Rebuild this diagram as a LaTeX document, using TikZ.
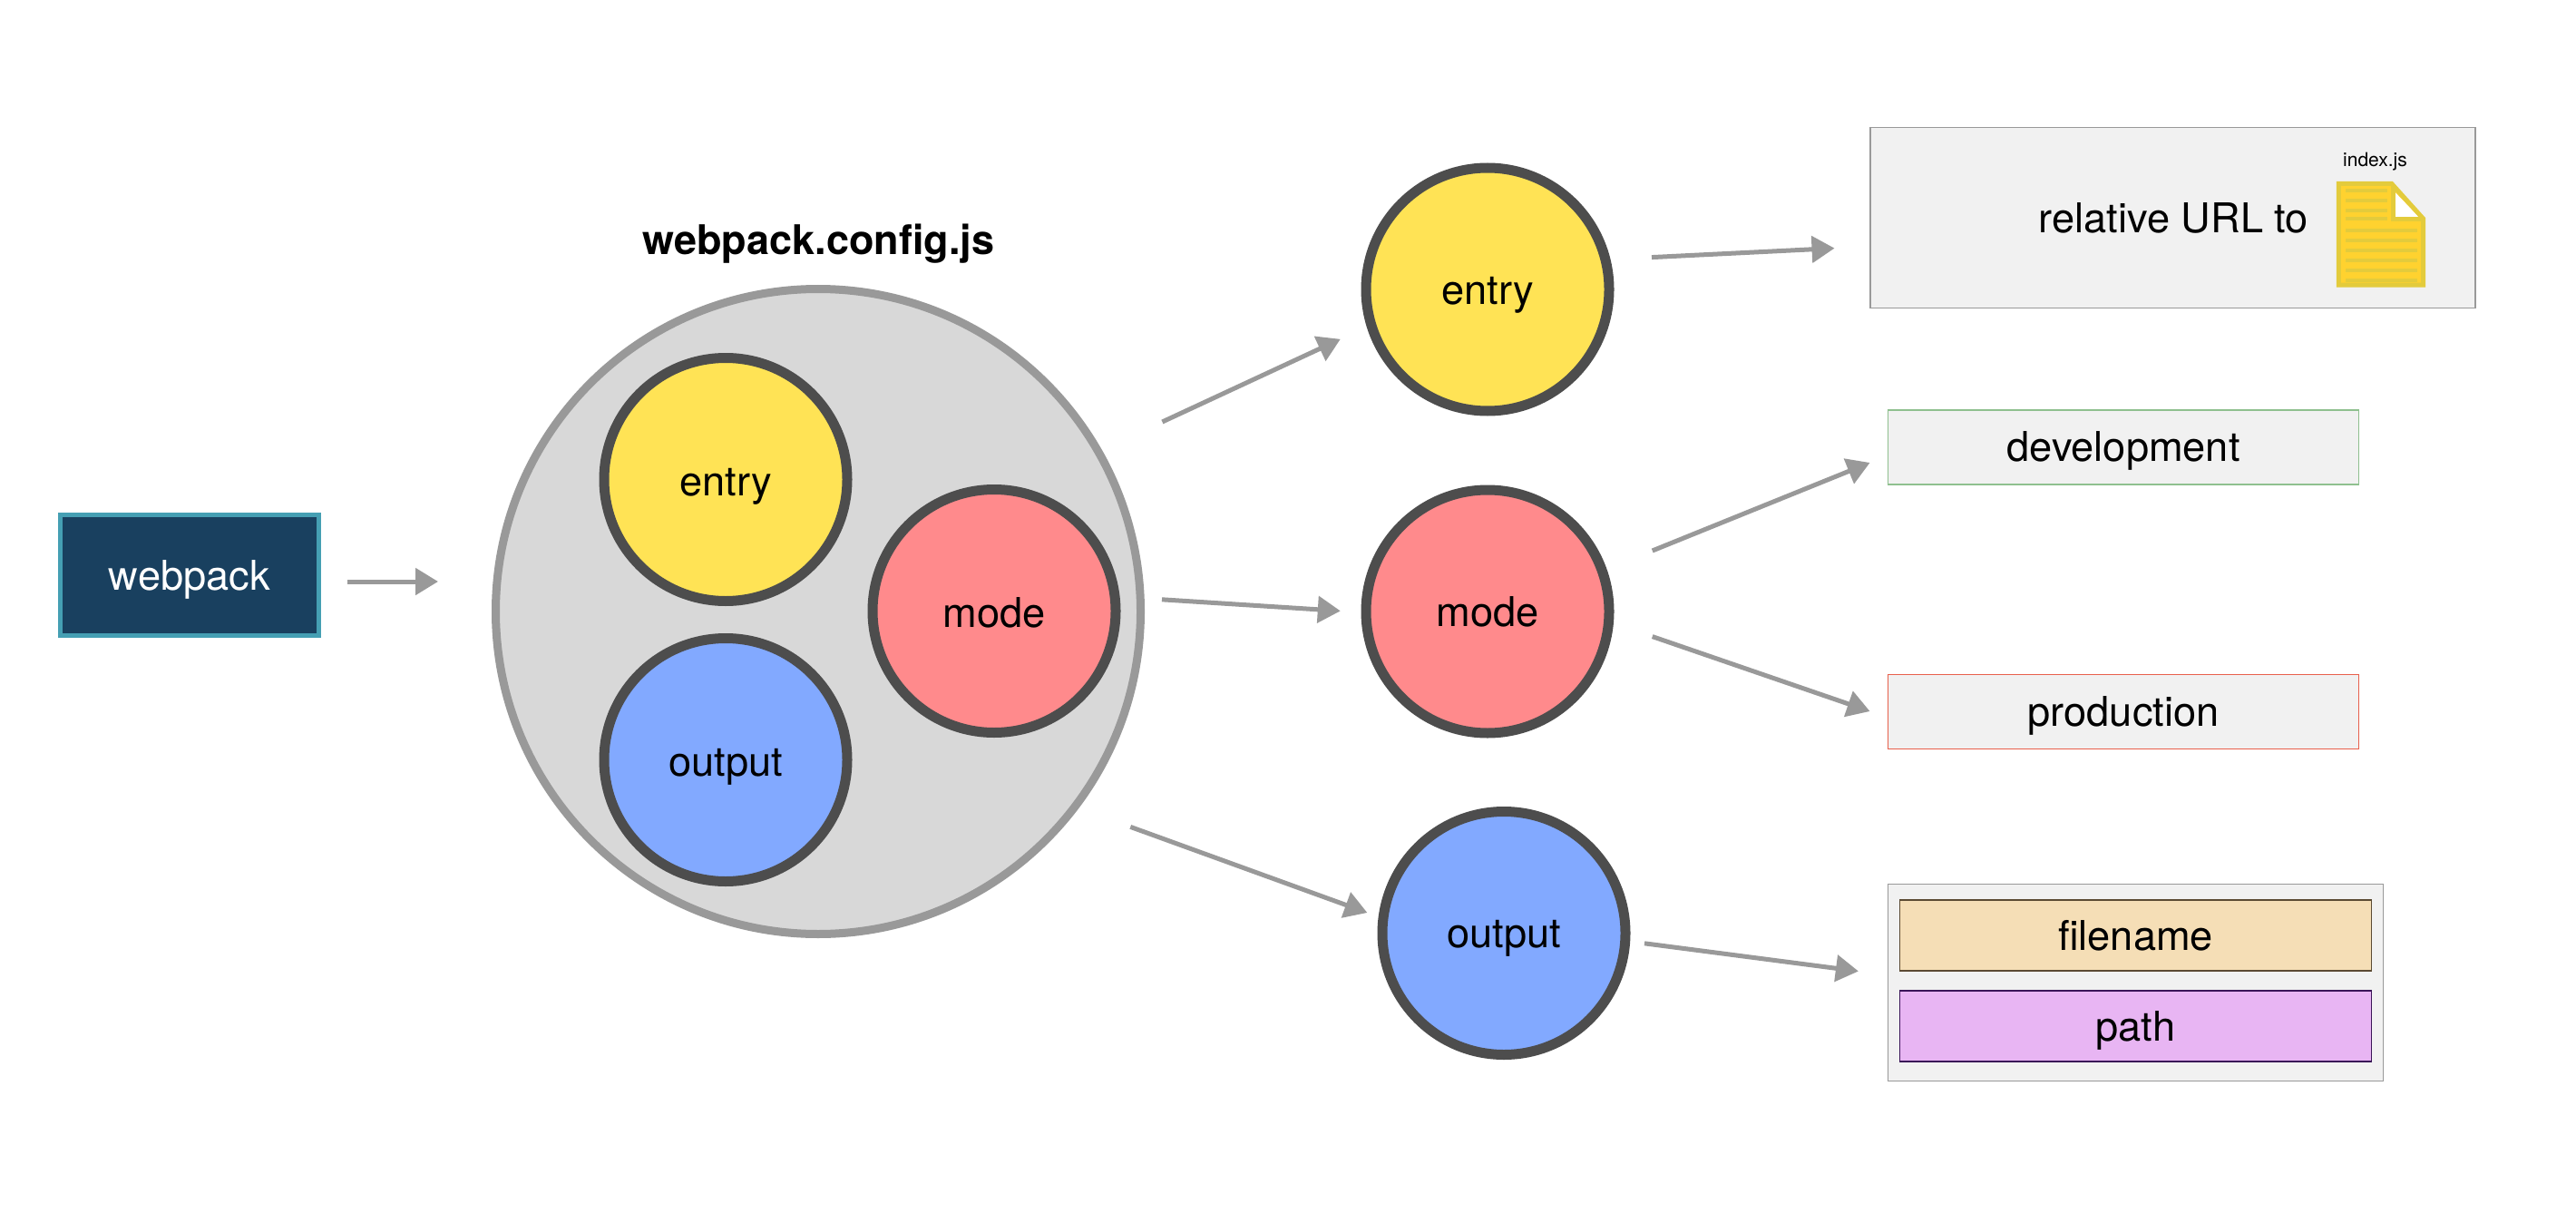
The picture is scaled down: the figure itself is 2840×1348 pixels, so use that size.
\documentclass[tikz,border=0pt]{standalone}
\usepackage{fontspec}
\setmainfont{TeX Gyre Heros}
\usetikzlibrary{arrows.meta}
\definecolor{grayline}{HTML}{999999}
\definecolor{ringdark}{HTML}{4D4D4D}
\definecolor{bigfill}{HTML}{D8D8D8}
\definecolor{yellowfill}{HTML}{FFE355}
\definecolor{pinkfill}{HTML}{FF8A8C}
\definecolor{bluefill}{HTML}{82A9FF}
\definecolor{navyfill}{HTML}{19405F}
\definecolor{tealline}{HTML}{459FB3}
\definecolor{panelfill}{HTML}{F1F1F1}
\definecolor{devline}{HTML}{8FC08F}
\definecolor{prodline}{HTML}{E8604C}
\definecolor{tanfill}{HTML}{F5DEB6}
\definecolor{tanline}{HTML}{5B4A33}
\definecolor{lilacfill}{HTML}{E8B5F3}
\definecolor{lilacline}{HTML}{3A1458}
\definecolor{docfill}{HTML}{FFD22F}
\definecolor{docline}{HTML}{E3CB3C}
\tikzset{
  x=1pt,y=-1pt,
  every node/.style={inner sep=0pt,outer sep=0pt,font=\fontsize{45.2}{54}\selectfont},
  labelled/.style={align=center,text height=34pt,text depth=2pt},
  ball/.style={labelled,circle,draw=ringdark,line width=11pt,minimum size=268pt},
  innerball/.style={ball,text height=37pt},
  panel/.style={labelled,rectangle,draw=#1,fill=panelfill,line width=1.7pt},
  slot/.style={labelled,rectangle,line width=1.7pt,minimum width=520pt,minimum height=78pt},
  flow/.style={draw=grayline,line width=5pt,-{Triangle[length=25pt,width=29pt]}},
}
\begin{document}
\begin{tikzpicture}
\useasboundingbox (0,0) rectangle (2840,1348);
\fill[white] (0,0) rectangle (2840,1348);

% webpack
\node[labelled,rectangle,draw=tealline,fill=navyfill,line width=5pt,text=white,minimum width=285pt,minimum height=133pt] (webpack) at (209,634) {webpack};

% config circle
\node[anchor=base,font=\fontsize{45}{54}\selectfont\bfseries] (title) at (902.5,280.5) {webpack.config.js};
\node[circle,draw=grayline,fill=bigfill,line width=9pt,minimum size=711pt] (config) at (902,674) {};
\node[innerball,fill=yellowfill] (entryA) at (800,528.5) {entry};
\node[innerball,fill=pinkfill] (modeA) at (1096,673.5) {mode};
\node[innerball,fill=bluefill] (outputA) at (800,837.5) {output};

% right circles
\node[ball,fill=yellowfill] (entryB) at (1640,319) {entry};
\node[ball,fill=pinkfill] (modeB) at (1640,674) {mode};
\node[ball,fill=bluefill] (outputB) at (1658,1028.5) {output};

% url panel
\node[panel=grayline,minimum width=667pt,minimum height=199pt] (urlbox) at (2395.5,240) {};
\node[anchor=base east] (urltext) at (2545,256.5) {relative URL to};
\node[anchor=base,font=\fontsize{21}{25}\selectfont] (indexname) at (2618.5,184) {index.js};

% file icon
\fill[docfill] (2578,202) -- (2637,202) -- (2672,241) -- (2672,314.5) -- (2578,314.5) -- cycle;
\fill[white] (2640.3,211.7) -- (2667,239.3) -- (2640.3,239.3) -- cycle;
\draw[docline,line width=5pt,line join=miter] (2578.3,202.5) -- (2636.8,202.5) -- (2671.5,241) -- (2671.5,314.2) -- (2578.3,314.2) -- cycle;
\draw[docline,line width=5pt] (2638,204) -- (2638,241.5) -- (2671,241.5);
\foreach \yy in {210,221,232,241.3}
  \fill[docline] (2586,\yy-2) rectangle (2632,\yy+2);
\foreach \yy in {254,265.3,276.3,287.3,298.3,309.3}
  \fill[docline] (2586,\yy-2) rectangle (2665.3,\yy+2);

% mode panels
\node[panel=devline,minimum width=519pt,minimum height=82pt] (dev) at (2341,492.7) {development};
\node[panel=prodline,minimum width=519pt,minimum height=82pt] (prod) at (2341,784.5) {production};

% output panel
\node[panel=grayline,minimum width=546pt,minimum height=217pt] (outbox) at (2354.5,1083) {};
\node[slot,draw=tanline,fill=tanfill] (filename) at (2354.5,1031.3) {filename};
\node[slot,draw=lilacline,fill=lilacfill] (pathbox) at (2354.5,1131.3) {path};

% connector ends
\coordinate (s0) at (383,641);    \coordinate (t0) at (483,641);
\coordinate (s1) at (1281.4,465); \coordinate (t1) at (1477.8,373.8);
\coordinate (s2) at (1281,660.8); \coordinate (t2) at (1477.8,673.4);
\coordinate (s3) at (1246.3,911.4); \coordinate (t3) at (1507.4,1006);
\coordinate (s4) at (1821,283.6); \coordinate (t4) at (2022.5,273.6);
\coordinate (s5) at (1821.7,607); \coordinate (t5) at (2061.5,510);
\coordinate (s6) at (1821.7,701.6); \coordinate (t6) at (2061.5,784);
\coordinate (s7) at (1813,1039.8); \coordinate (t7) at (2048.9,1070.5);
\foreach \i in {0,...,7}
  \draw[flow] (s\i) -- (t\i);
\end{tikzpicture}
\end{document}
